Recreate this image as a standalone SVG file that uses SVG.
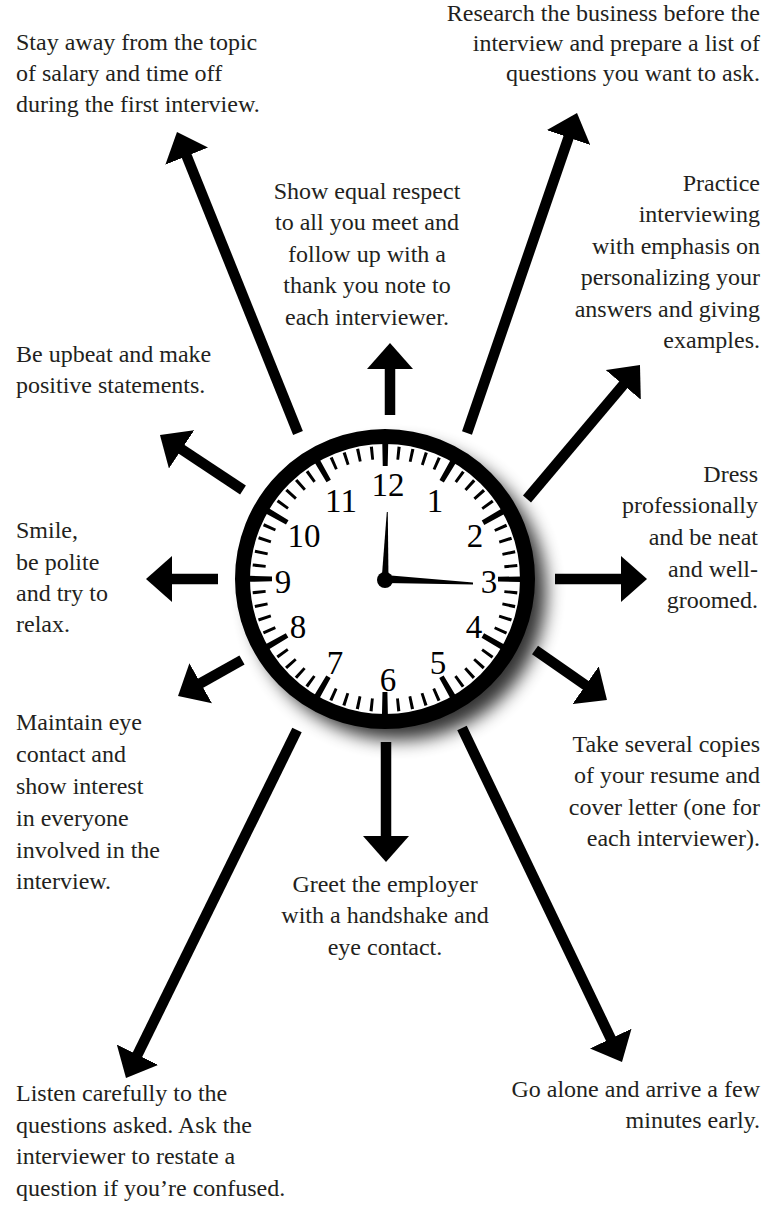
<svg xmlns="http://www.w3.org/2000/svg" width="766" height="1210" viewBox="0 0 766 1210">
<defs>
<style>
.t{font-family:"Liberation Serif","Times New Roman",serif;font-size:24px;fill:#231f20}
.n{font-family:"Liberation Serif","Times New Roman",serif;font-size:33px;fill:#000;text-anchor:middle}
.a{stroke:#000;stroke-width:10.5;fill:none;marker-end:url(#ah)}
</style>
<marker id="ah" markerUnits="userSpaceOnUse" viewBox="0 0 26 46" markerWidth="26" markerHeight="46" refX="4" refY="23" orient="auto">
<path d="M0,0 L26,23 L0,46 z" fill="#000"/>
</marker>
<filter id="sh" x="-40%" y="-40%" width="180%" height="180%">
<feGaussianBlur stdDeviation="9"/>
</filter>
</defs>
<rect width="766" height="1210" fill="#fff"/>

<g id="connectors">
<line class="a" x1="298" y1="433" x2="185.2" y2="152.4"/>
<line class="a" x1="390" y1="415" x2="390" y2="365"/>
<line class="a" x1="467" y1="433" x2="569.85" y2="133.8"/>
<line class="a" x1="527" y1="499" x2="625.8" y2="381.8"/>
<line class="a" x1="555" y1="579" x2="625" y2="579"/>
<line class="a" x1="535" y1="650" x2="588.9" y2="687.5"/>
<line class="a" x1="462" y1="728" x2="612.5" y2="1042.2"/>
<line class="a" x1="386" y1="742" x2="386" y2="840"/>
<line class="a" x1="297" y1="730" x2="135.7" y2="1058.3"/>
<line class="a" x1="242" y1="660" x2="197.2" y2="685.2"/>
<line class="a" x1="218" y1="579" x2="168" y2="579"/>
<line class="a" x1="243" y1="490" x2="178.3" y2="447.1"/>
</g>

<g id="clock">
<circle cx="398" cy="592" r="148" fill="#000" opacity="0.8" filter="url(#sh)"/>
<circle cx="385" cy="579" r="142.5" fill="#fff" stroke="#000" stroke-width="15"/>
<circle cx="385" cy="579" r="126.5" fill="none" stroke="#000" stroke-width="13" stroke-dasharray="3 10.247" stroke-dashoffset="1.5"/>
<circle cx="385" cy="579" r="124.5" fill="none" stroke="#000" stroke-width="23" stroke-dasharray="5.5 59.688" stroke-dashoffset="2.75"/>
<text class="n" x="388" y="496">12</text>
<text class="n" x="435" y="512">1</text>
<text class="n" x="475" y="547">2</text>
<text class="n" x="489" y="593">3</text>
<text class="n" x="474" y="638">4</text>
<text class="n" x="438" y="674">5</text>
<text class="n" x="388" y="691">6</text>
<text class="n" x="335" y="674">7</text>
<text class="n" x="298" y="638">8</text>
<text class="n" x="283" y="593">9</text>
<text class="n" x="304" y="547">10</text>
<text class="n" x="341" y="512">11</text>
<polygon points="381.5,581 388.5,581 387.8,512 386.8,512" fill="#000"/>
<polygon points="385,575 385,583 473,584.5 473,582.5" fill="#000"/>
<circle cx="385" cy="580" r="8" fill="#000"/>
</g>

<g id="node-stay">
<text class="t" x="16" y="50">Stay away from the topic</text>
<text class="t" x="16" y="81">of salary and time off</text>
<text class="t" x="16" y="112">during the first interview.</text>
</g>
<g id="node-research" text-anchor="end">
<text class="t" x="760" y="21">Research the business before the</text>
<text class="t" x="760" y="51">interview and prepare a list of</text>
<text class="t" x="760" y="81">questions you want to ask.</text>
</g>
<g id="node-respect" text-anchor="middle">
<text class="t" x="367" y="199">Show equal respect</text>
<text class="t" x="367" y="230">to all you meet and</text>
<text class="t" x="367" y="262">follow up with a</text>
<text class="t" x="367" y="293">thank you note to</text>
<text class="t" x="367" y="325">each interviewer.</text>
</g>
<g id="node-practice" text-anchor="end">
<text class="t" x="760" y="191">Practice</text>
<text class="t" x="760" y="222">interviewing</text>
<text class="t" x="760" y="254">with emphasis on</text>
<text class="t" x="760" y="285">personalizing your</text>
<text class="t" x="760" y="317">answers and giving</text>
<text class="t" x="760" y="348">examples.</text>
</g>
<g id="node-upbeat">
<text class="t" x="16" y="362">Be upbeat and make</text>
<text class="t" x="16" y="393">positive statements.</text>
</g>
<g id="node-smile">
<text class="t" x="16" y="538">Smile,</text>
<text class="t" x="16" y="570">be polite</text>
<text class="t" x="16" y="601">and try to</text>
<text class="t" x="16" y="632">relax.</text>
</g>
<g id="node-maintain">
<text class="t" x="16" y="730">Maintain eye</text>
<text class="t" x="16" y="762">contact and</text>
<text class="t" x="16" y="794">show interest</text>
<text class="t" x="16" y="826">in everyone</text>
<text class="t" x="16" y="858">involved in the</text>
<text class="t" x="16" y="889">interview.</text>
</g>
<g id="node-dress" text-anchor="end">
<text class="t" x="758" y="482">Dress</text>
<text class="t" x="758" y="513">professionally</text>
<text class="t" x="758" y="545">and be neat</text>
<text class="t" x="758" y="577">and well-</text>
<text class="t" x="758" y="608">groomed.</text>
</g>
<g id="node-copies" text-anchor="end">
<text class="t" x="760" y="752">Take several copies</text>
<text class="t" x="760" y="783">of your resume and</text>
<text class="t" x="760" y="815">cover letter (one for</text>
<text class="t" x="760" y="846">each interviewer).</text>
</g>
<g id="node-greet" text-anchor="middle">
<text class="t" x="385" y="892">Greet the employer</text>
<text class="t" x="385" y="923">with a handshake and</text>
<text class="t" x="385" y="955">eye contact.</text>
</g>
<g id="node-listen">
<text class="t" x="16" y="1101">Listen carefully to the</text>
<text class="t" x="16" y="1133">questions asked. Ask the</text>
<text class="t" x="16" y="1164">interviewer to restate a</text>
<text class="t" x="16" y="1196">question if you’re confused.</text>
</g>
<g id="node-alone" text-anchor="end">
<text class="t" x="760" y="1097">Go alone and arrive a few</text>
<text class="t" x="760" y="1128">minutes early.</text>
</g>
</svg>
